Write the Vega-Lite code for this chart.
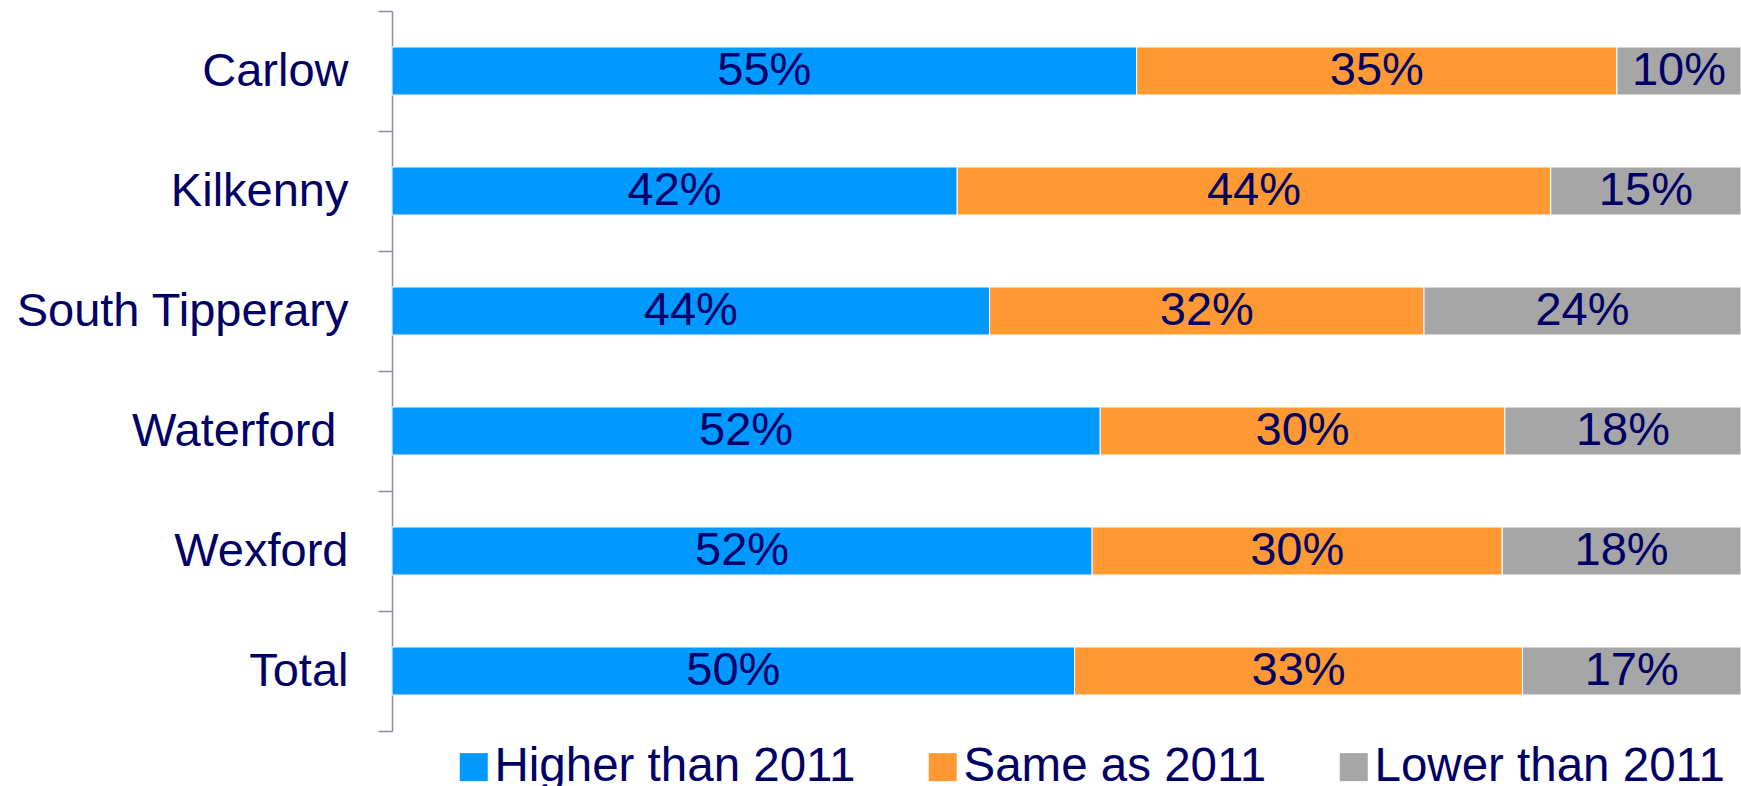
{
  "$schema": "https://vega.github.io/schema/vega-lite/v6.json",
  "width": 1349,
  "height": 720,
  "autosize": {"type": "none"},
  "padding": {"left": 392, "top": 11, "right": 0, "bottom": 55},
  "background": "white",
  "config": {"view": {"stroke": null}, "font": "Liberation Sans"},
  "data": {
    "values": [
      {"county": "Carlow", "category": "Higher than 2011", "ord": 1, "pct": 55.2, "label": "55%"},
      {"county": "Carlow", "category": "Same as 2011", "ord": 2, "pct": 35.6, "label": "35%"},
      {"county": "Carlow", "category": "Lower than 2011", "ord": 3, "pct": 9.2, "label": "10%"},
      {"county": "Kilkenny", "category": "Higher than 2011", "ord": 1, "pct": 41.9, "label": "42%"},
      {"county": "Kilkenny", "category": "Same as 2011", "ord": 2, "pct": 44.0, "label": "44%"},
      {"county": "Kilkenny", "category": "Lower than 2011", "ord": 3, "pct": 14.1, "label": "15%"},
      {"county": "South Tipperary", "category": "Higher than 2011", "ord": 1, "pct": 44.3, "label": "44%"},
      {"county": "South Tipperary", "category": "Same as 2011", "ord": 2, "pct": 32.2, "label": "32%"},
      {"county": "South Tipperary", "category": "Lower than 2011", "ord": 3, "pct": 23.5, "label": "24%"},
      {"county": "Waterford", "category": "Higher than 2011", "ord": 1, "pct": 52.5, "label": "52%"},
      {"county": "Waterford", "category": "Same as 2011", "ord": 2, "pct": 30.0, "label": "30%"},
      {"county": "Waterford", "category": "Lower than 2011", "ord": 3, "pct": 17.5, "label": "18%"},
      {"county": "Wexford", "category": "Higher than 2011", "ord": 1, "pct": 51.9, "label": "52%"},
      {"county": "Wexford", "category": "Same as 2011", "ord": 2, "pct": 30.4, "label": "30%"},
      {"county": "Wexford", "category": "Lower than 2011", "ord": 3, "pct": 17.7, "label": "18%"},
      {"county": "Total", "category": "Higher than 2011", "ord": 1, "pct": 50.6, "label": "50%"},
      {"county": "Total", "category": "Same as 2011", "ord": 2, "pct": 33.2, "label": "33%"},
      {"county": "Total", "category": "Lower than 2011", "ord": 3, "pct": 16.2, "label": "17%"}
    ]
  },
  "encoding": {
    "y": {
      "field": "county",
      "type": "nominal",
      "sort": ["Carlow", "Kilkenny", "South Tipperary", "Waterford", "Wexford", "Total"],
      "scale": {"paddingInner": 0, "paddingOuter": 0},
      "axis": {
        "title": null,
        "labelFontSize": 47,
        "labelFont": "Liberation Sans",
        "labelColor": "#000066",
        "labelPadding": {"condition": {"test": "datum.value === 'Waterford'", "value": 42}, "value": 30},
        "labelLimit": 600,
        "tickSize": 14,
        "tickWidth": 1.5,
        "tickColor": "#8C8C9C",
        "domainColor": "#8C8C9C",
        "domainWidth": 1.5,
        "tickBand": "extent"
      }
    },
    "order": {"field": "ord", "type": "quantitative"}
  },
  "layer": [
    {
      "mark": {"type": "bar", "height": {"band": 0.4}, "stroke": "white", "strokeWidth": 1},
      "encoding": {
        "x": {
          "field": "pct",
          "type": "quantitative",
          "stack": "zero",
          "axis": null,
          "scale": {"domain": [0, 100], "nice": false}
        },
        "color": {
          "field": "category",
          "type": "nominal",
          "sort": ["Higher than 2011", "Same as 2011", "Lower than 2011"],
          "scale": {
            "domain": ["Higher than 2011", "Same as 2011", "Lower than 2011"],
            "range": ["#0099FF", "#FF9933", "#A6A6A6"]
          },
          "legend": {
            "title": null,
            "orient": "none",
            "direction": "horizontal",
            "legendX": 58,
            "legendY": 732,
            "padding": 0,
            "symbolType": "square",
            "symbolSize": 784,
            "symbolStrokeWidth": 0,
            "symbolOpacity": 1,
            "labelFontSize": 47.5,
            "labelFont": "Liberation Sans",
            "labelColor": "#000066",
            "labelOffset": -3,
            "labelLimit": 600,
            "columnPadding": 63
          }
        }
      }
    },
    {
      "mark": {
        "type": "text",
        "align": "center",
        "baseline": "middle",
        "fontSize": 47,
        "font": "Liberation Sans",
        "color": "#000066"
      },
      "encoding": {
        "x": {
          "field": "pct",
          "type": "quantitative",
          "stack": "zero",
          "bandPosition": 0.5
        },
        "text": {"field": "label", "type": "nominal"}
      }
    }
  ]
}
